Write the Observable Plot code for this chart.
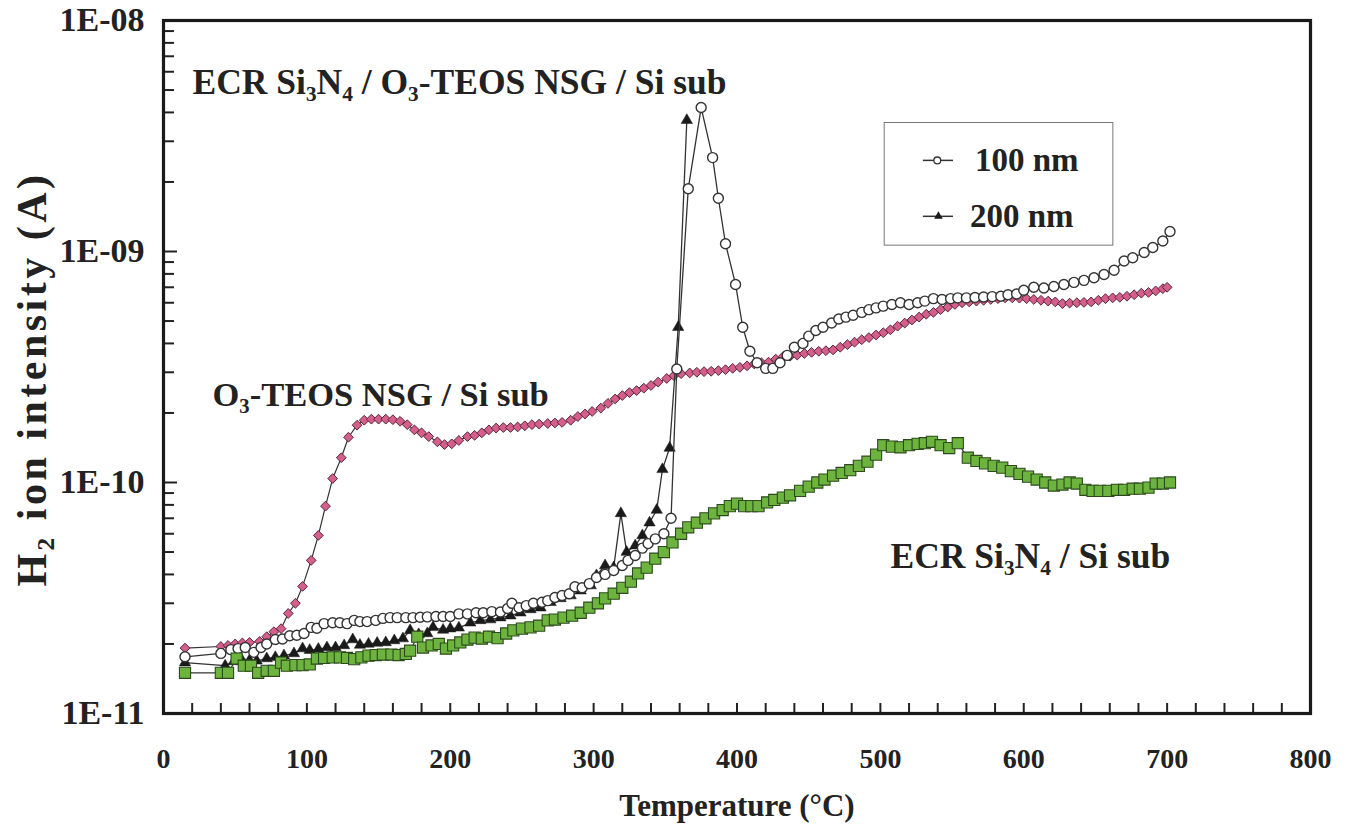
<!DOCTYPE html>
<html><head><meta charset="utf-8">
<script src="https://cdn.jsdelivr.net/npm/d3@7"></script>
<script src="https://cdn.jsdelivr.net/npm/@observablehq/plot@0.6"></script>
<style>body{margin:0;background:#fff}#chart{width:1346px;height:835px}</style>
</head><body><div id="chart"></div>
<script>
// ---- Data (temperature °C, H2 ion intensity A) ----
const nsgT = [15,40,45,50,55,60,67,72,77,82,87,92,97,103,108,113,118,124,129,135,140,145,150,155,160,165,170,175,180,185,191,196,201,206,212,217,222,227,232,237,242,247,252,257,262,268,273,278,284,289,294,299,305,310,315,320,325,330,335,340,345,351,356,361,367,372,377,382,387,392,397,402,407,412,417,422,427,432,437,442,447,452,457,462,467,472,477,482,487,492,497,502,507,512,517,522,527,532,537,542,547,552,557,562,567,572,577,582,587,592,597,602,607,612,617,622,627,632,637,642,647,652,657,662,667,672,677,682,687,692,697,700];
const nsgV = [1.92e-11,1.95e-11,1.97e-11,2.0e-11,2.02e-11,2.03e-11,2.05e-11,2.15e-11,2.26e-11,2.33e-11,2.71e-11,3.0e-11,3.55e-11,4.6e-11,5.9e-11,7.9e-11,1.04e-10,1.28e-10,1.57e-10,1.77e-10,1.86e-10,1.88e-10,1.88e-10,1.88e-10,1.87e-10,1.84e-10,1.78e-10,1.69e-10,1.64e-10,1.58e-10,1.5e-10,1.46e-10,1.47e-10,1.52e-10,1.58e-10,1.6e-10,1.64e-10,1.69e-10,1.72e-10,1.73e-10,1.73e-10,1.74e-10,1.76e-10,1.78e-10,1.79e-10,1.8e-10,1.81e-10,1.82e-10,1.86e-10,1.93e-10,1.98e-10,2.03e-10,2.1e-10,2.2e-10,2.3e-10,2.38e-10,2.45e-10,2.5e-10,2.56e-10,2.63e-10,2.72e-10,2.82e-10,2.9e-10,2.96e-10,2.98e-10,3.0e-10,3.02e-10,3.03e-10,3.05e-10,3.08e-10,3.12e-10,3.15e-10,3.2e-10,3.26e-10,3.3e-10,3.32e-10,3.42e-10,3.5e-10,3.52e-10,3.56e-10,3.62e-10,3.66e-10,3.7e-10,3.72e-10,3.75e-10,3.85e-10,3.95e-10,4.05e-10,4.15e-10,4.24e-10,4.35e-10,4.45e-10,4.58e-10,4.75e-10,4.9e-10,5.05e-10,5.2e-10,5.35e-10,5.45e-10,5.6e-10,5.75e-10,5.9e-10,6.0e-10,6.05e-10,6.1e-10,6.15e-10,6.2e-10,6.25e-10,6.3e-10,6.3e-10,6.28e-10,6.25e-10,6.2e-10,6.15e-10,6.1e-10,6.05e-10,5.95e-10,5.98e-10,6.0e-10,6.02e-10,6.05e-10,6.15e-10,6.25e-10,6.3e-10,6.33e-10,6.4e-10,6.5e-10,6.6e-10,6.65e-10,6.75e-10,6.9e-10,7.0e-10];

const sinT = [15,40,45,51,56,61,66,72,77,82,86,92,97,102,107,112,118,123,128,133,138,143,148,153,159,164,169,172,177,181,187,192,197,202,207,212,217,222,227,233,239,244,250,256,262,268,273,279,285,291,297,303,308,314,320,326,331,337,343,349,355,361,366,372,378,384,390,395,400,405,410,415,421,426,432,437,444,450,456,461,467,473,479,485,491,497,502,508,514,520,526,531,536,542,548,554,561,567,573,579,585,591,597,603,609,615,621,627,632,637,643,648,653,659,665,670,676,681,687,692,697,702];
const sinV = [1.5e-11,1.5e-11,1.5e-11,1.73e-11,1.61e-11,1.61e-11,1.5e-11,1.53e-11,1.53e-11,1.66e-11,1.61e-11,1.62e-11,1.62e-11,1.63e-11,1.73e-11,1.74e-11,1.75e-11,1.75e-11,1.74e-11,1.72e-11,1.75e-11,1.78e-11,1.79e-11,1.8e-11,1.8e-11,1.79e-11,1.81e-11,1.87e-11,2.15e-11,1.93e-11,1.97e-11,2.0e-11,1.91e-11,1.97e-11,2.03e-11,2.09e-11,2.13e-11,2.11e-11,2.15e-11,2.12e-11,2.22e-11,2.29e-11,2.33e-11,2.36e-11,2.4e-11,2.53e-11,2.55e-11,2.6e-11,2.65e-11,2.73e-11,2.87e-11,3.0e-11,3.15e-11,3.3e-11,3.5e-11,3.72e-11,4.04e-11,4.28e-11,4.68e-11,5.0e-11,5.5e-11,6.0e-11,6.4e-11,6.7e-11,7.0e-11,7.35e-11,7.6e-11,7.9e-11,8.1e-11,7.9e-11,7.9e-11,7.9e-11,8.2e-11,8.4e-11,8.6e-11,8.8e-11,9.2e-11,9.6e-11,1.0e-10,1.03e-10,1.07e-10,1.1e-10,1.13e-10,1.18e-10,1.23e-10,1.32e-10,1.45e-10,1.43e-10,1.42e-10,1.45e-10,1.47e-10,1.48e-10,1.5e-10,1.45e-10,1.41e-10,1.48e-10,1.28e-10,1.24e-10,1.21e-10,1.18e-10,1.16e-10,1.12e-10,1.09e-10,1.06e-10,1.03e-10,1.0e-10,9.7e-11,9.8e-11,1.0e-10,9.9e-11,9.3e-11,9.2e-11,9.2e-11,9.2e-11,9.3e-11,9.3e-11,9.4e-11,9.4e-11,9.5e-11,9.9e-11,9.9e-11,1.0e-10];

const nm100T = [15,40,47,52,57,63,68,72,78,83,88,93,98,103,107,112,118,123,128,133,137,142,148,153,158,163,169,174,179,184,190,195,200,206,212,218,223,229,235,240,243,248,253,258,264,268,273,278,283,287,292,297,302,308,314,320,324,329,334,338,343,349,354,358,366,375,383,387,392,399,404,409,414,420,425,430,435,440,446,450,455,460,466,471,476,481,487,492,497,502,508,514,520,526,531,537,543,549,554,560,566,572,578,584,589,595,600,607,614,621,628,635,642,649,656,663,670,676,684,690,697,702];
const nm100V = [1.76e-11,1.82e-11,1.89e-11,1.91e-11,1.93e-11,1.84e-11,1.93e-11,2.0e-11,2.09e-11,2.1e-11,2.17e-11,2.18e-11,2.22e-11,2.36e-11,2.34e-11,2.45e-11,2.47e-11,2.47e-11,2.45e-11,2.53e-11,2.5e-11,2.5e-11,2.53e-11,2.58e-11,2.6e-11,2.6e-11,2.6e-11,2.6e-11,2.61e-11,2.62e-11,2.63e-11,2.63e-11,2.63e-11,2.7e-11,2.7e-11,2.73e-11,2.73e-11,2.76e-11,2.75e-11,2.85e-11,3.0e-11,2.87e-11,2.93e-11,3.0e-11,3.03e-11,3.08e-11,3.18e-11,3.24e-11,3.3e-11,3.54e-11,3.5e-11,3.65e-11,3.88e-11,4.0e-11,4.16e-11,4.37e-11,4.6e-11,4.83e-11,5.2e-11,5.44e-11,5.7e-11,6.0e-11,7.0e-11,3.1e-10,1.87e-9,4.2e-9,2.55e-9,1.7e-9,1.08e-9,7.2e-10,4.7e-10,3.7e-10,3.3e-10,3.12e-10,3.12e-10,3.3e-10,3.55e-10,3.85e-10,4.0e-10,4.3e-10,4.55e-10,4.7e-10,4.9e-10,5.1e-10,5.2e-10,5.3e-10,5.45e-10,5.6e-10,5.7e-10,5.8e-10,5.9e-10,6.0e-10,5.9e-10,6.0e-10,6.1e-10,6.25e-10,6.2e-10,6.25e-10,6.3e-10,6.3e-10,6.32e-10,6.35e-10,6.38e-10,6.4e-10,6.5e-10,6.55e-10,6.8e-10,7.0e-10,6.95e-10,7.05e-10,7.2e-10,7.35e-10,7.5e-10,7.7e-10,7.95e-10,8.3e-10,9.1e-10,9.4e-10,9.9e-10,1.04e-9,1.11e-9,1.22e-9];

const nm200T = [15,43,49,54,60,65,72,78,84,91,97,102,108,114,120,126,132,137,143,149,155,161,167,172,178,184,188,195,200,206,214,221,228,235,242,249,256,263,270,277,284,291,298,302,308,314,319,323,329,334,339,344,348,353,359,365];
const nm200V = [1.66e-11,1.61e-11,1.68e-11,1.73e-11,1.7e-11,1.69e-11,1.73e-11,1.75e-11,1.78e-11,1.82e-11,1.91e-11,1.88e-11,1.9e-11,1.93e-11,1.93e-11,1.97e-11,2.09e-11,1.98e-11,2.0e-11,2.02e-11,2.03e-11,2.07e-11,2.11e-11,2.29e-11,2.2e-11,2.22e-11,2.36e-11,2.3e-11,2.33e-11,2.35e-11,2.47e-11,2.53e-11,2.55e-11,2.6e-11,2.65e-11,2.73e-11,2.82e-11,2.87e-11,3.03e-11,3.15e-11,3.24e-11,3.4e-11,3.58e-11,3.96e-11,4.37e-11,4.28e-11,7.35e-11,5.0e-11,5.33e-11,5.9e-11,6.7e-11,7.6e-11,1.14e-10,1.41e-10,4.7e-10,3.7e-9];

// ---- Axes ----
const xTicks = [0,100,200,300,400,500,600,700,800];
const xMinorTicks = d3.range(0, 801, 20);
const yTicks = [1e-11,1e-10,1e-9,1e-8];
const yTickLabels = ["1E-11","1E-10","1E-09","1E-08"];
const yMinorTicks = [2e-11,3e-11,4e-11,5e-11,6e-11,7e-11,8e-11,9e-11,2e-10,3e-10,4e-10,5e-10,6e-10,7e-10,8e-10,9e-10,2e-9,3e-9,4e-9,5e-9,6e-9,7e-9,8e-9,9e-9];

// ---- Labels ----
const seriesLabels = ["100 nm","200 nm"];
const annotations = ["ECR Si₃N₄ / O₃-TEOS NSG / Si sub","O₃-TEOS NSG / Si sub","ECR Si₃N₄ / Si sub"];
const xLabel = "Temperature (°C)";
const yLabel = "H₂ ion intensity (A)";

const rows = (T, V) => T.map((t, i) => ({t, v: V[i]}));
const nsg = rows(nsgT, nsgV), sin = rows(sinT, sinV), n100 = rows(nm100T, nm100V), n200 = rows(nm200T, nm200V);

const FONT = "'Liberation Serif','Times New Roman',serif";
const LINE = "#333";
const txt = {fontWeight: "bold", fill: "#222"};

const plot = Plot.plot({
  width: 1346, height: 835,
  marginLeft: 163, marginRight: 36, marginTop: 20, marginBottom: 122,
  style: {fontFamily: FONT, background: "#fff", color: "#222"},
  x: {domain: [0, 800]},
  y: {type: "log", domain: [1e-11, 1e-8]},
  marks: [
    Plot.tickX(xMinorTicks, {x: d => d, insetTop: 683, stroke: "#222", strokeWidth: 2}),
    Plot.tickY(yMinorTicks, {y: d => d, insetRight: 1136, stroke: "#222", strokeWidth: 2}),
    Plot.tickY(yTicks, {y: d => d, insetRight: 1133, stroke: "#222", strokeWidth: 2}),
    Plot.axisX({ticks: xTicks, tickSize: 0, tickPadding: 35, fontSize: 28, ...txt, label: null}),
    Plot.axisY({ticks: yTicks, tickFormat: d => yTickLabels[yTicks.indexOf(d)], tickSize: 0, tickPadding: 19, fontSize: 34, ...txt, label: null}),
    // O3-TEOS NSG / Si sub
    Plot.line(nsg, {x: "t", y: "v", stroke: LINE, strokeWidth: 1.2}),
    Plot.dot(nsg, {x: "t", y: "v", symbol: "diamond2", r: 4.4, fill: "#d45f8c", stroke: "#5a2636", strokeWidth: 1}),
    // 200 nm
    Plot.line(n200, {x: "t", y: "v", stroke: LINE, strokeWidth: 1.3}),
    Plot.dot(n200, {x: "t", y: "v", symbol: "triangle", r: 4.2, fill: "#1a1a1a", stroke: "#1a1a1a", strokeWidth: 0.5}),
    // 100 nm
    Plot.line(n100, {x: "t", y: "v", stroke: LINE, strokeWidth: 1.3}),
    Plot.dot(n100, {x: "t", y: "v", symbol: "circle", r: 5, fill: "#fff", stroke: "#333", strokeWidth: 1.4}),
    // ECR Si3N4 / Si sub
    Plot.line(sin, {x: "t", y: "v", stroke: LINE, strokeWidth: 1.2}),
    Plot.dot(sin, {x: "t", y: "v", symbol: "square", r: 6.3, fill: "#6cb43e", stroke: "#2d4a1d", strokeWidth: 1.1}),
    // frame
    Plot.frame({stroke: "#1a1a1a", strokeWidth: 3.2}),
    // annotations
    Plot.text([annotations[0]], {frameAnchor: "top-left", dx: 29, dy: 48, textAnchor: "start", fontSize: 35.5, ...txt}),
    Plot.text([annotations[1]], {frameAnchor: "top-left", dx: 49, dy: 361, textAnchor: "start", fontSize: 34.5, ...txt}),
    Plot.text([annotations[2]], {frameAnchor: "top-left", dx: 727, dy: 522, textAnchor: "start", fontSize: 35.5, ...txt}),
    // legend box
    Plot.rect([0], {x1: 503, x2: 662.5, y1: 1.06e-9, y2: 3.6e-9, fill: "#fff", stroke: "#777", strokeWidth: 1}),
    Plot.ruleY([2.48e-9], {x1: 530, x2: 551, stroke: LINE, strokeWidth: 1.5}),
    Plot.dot([0], {x: () => 539.7, y: () => 2.48e-9, symbol: "circle", r: 3.4, fill: "#fff", stroke: "#333", strokeWidth: 1.3}),
    Plot.text([seriesLabels[0]], {x: () => 566, y: () => 2.48e-9, textAnchor: "start", fontSize: 33, ...txt}),
    Plot.ruleY([1.42e-9], {x1: 530, x2: 551, stroke: LINE, strokeWidth: 1.5}),
    Plot.dot([0], {x: () => 540.5, y: () => 1.42e-9, symbol: "triangle", r: 3.2, fill: "#1a1a1a"}),
    Plot.text([seriesLabels[1]], {x: () => 562.5, y: () => 1.42e-9, textAnchor: "start", fontSize: 33, ...txt}),
    // axis titles
    Plot.text([xLabel], {frameAnchor: "bottom", dy: 102, fontSize: 31, ...txt}),
    Plot.text([yLabel], {frameAnchor: "left", textAnchor: "middle", rotate: -90, dx: -131, dy: 12, fontSize: 42, ...txt})
  ]
});
d3.select(plot).selectAll("text").filter(function() { return this.textContent === yLabel; }).style("letter-spacing", "3.5px");
document.getElementById("chart").append(plot);
</script>
</body></html>
